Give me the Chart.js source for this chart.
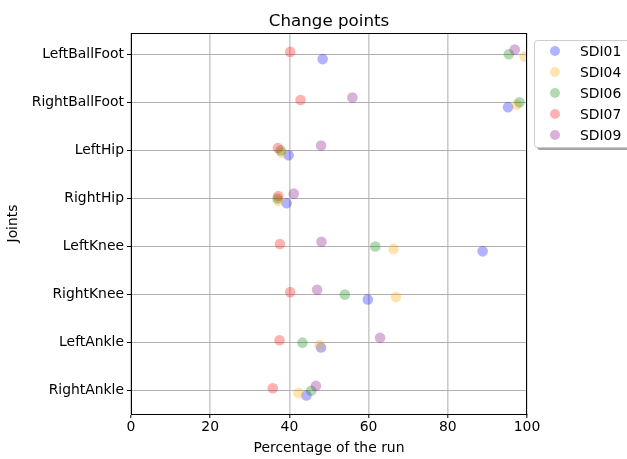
<!DOCTYPE html>
<html>
<head>
<meta charset="utf-8">
<script src="https://cdn.jsdelivr.net/npm/chart.js@4.4.1/dist/chart.umd.min.js"></script>
<style>
  html, body { margin: 0; padding: 0; background: #fff; }
  #wrap { width: 627px; height: 459px; }
</style>
</head>
<body>
<div id="wrap"><canvas id="grafico" width="627" height="459"></canvas></div>
<script>
const joints = ["LeftBallFoot", "RightBallFoot", "LeftHip", "RightHip", "LeftKnee", "RightKnee", "LeftAnkle", "RightAnkle"];
const subjects = ["SDI01", "SDI04", "SDI06", "SDI07", "SDI09"];
const xTicks = [0, 20, 40, 60, 80, 100];

// change point (% of run) per joint, in the order of `joints`
const sdi01 = [48.4, 95.2, 39.8, 39.3, 88.8, 59.8, 48.0, 44.3];
const sdi04 = [99.4, 97.4, 38.1, 37.2, 66.3, 66.9, 47.6, 42.3];
const sdi06 = [95.4, 98.1, 37.8, 37.0, 61.7, 54.0, 43.3, 45.5];
const sdi07 = [40.2, 42.8, 37.1, 37.2, 37.6, 40.2, 37.5, 35.8];
const sdi09 = [96.9, 55.9, 48.0, 41.1, 48.1, 47.0, 62.9, 46.7];

const series = [sdi01, sdi04, sdi06, sdi07, sdi09];
const cores = ["0,0,255", "255,165,0", "0,128,0", "255,0,0", "128,0,128"];
const dodge = [0.1, 0.05, 0, -0.05, -0.1];

const fonte = "DejaVu Sans";
const tam = 13.9;

const datasets = series.map((vals, i) => ({
    label: subjects[i],
    data: vals.map((v, j) => ({ x: v, y: j + dodge[i] })),
    backgroundColor: `rgba(${cores[i]},0.3)`,
    borderWidth: 0,
    pointRadius: 5.3,
    pointHoverRadius: 5.3,
    order: subjects.length - i
}));

// title, frame and legend box
const extras = {
    id: 'extras',
    afterDraw(chart) {
        const ctx = chart.ctx;
        const a = chart.chartArea;
        ctx.save();
        ctx.strokeStyle = '#000';
        ctx.lineWidth = 1;
        ctx.strokeRect(a.left + 0.5, a.top + 0.5, a.right - a.left - 1, a.bottom - a.top);

        ctx.fillStyle = '#000';
        ctx.font = `16.7px "${fonte}"`;
        ctx.textAlign = 'center';
        ctx.textBaseline = 'alphabetic';
        ctx.fillText("Change points", (a.left + a.right) / 2, a.top - 7);

        // legend
        const lx = 534, ly = 40, lw = 110, lh = 107;
        ctx.fillStyle = 'rgba(0,0,0,0.35)';
        ctx.beginPath();
        ctx.roundRect(lx + 3, ly + 3, lw, lh, 3);
        ctx.fill();
        ctx.fillStyle = '#fff';
        ctx.strokeStyle = '#cccccc';
        ctx.beginPath();
        ctx.roundRect(lx + 0.5, ly + 0.5, lw, lh, 3);
        ctx.fill();
        ctx.stroke();

        ctx.font = `${tam}px "${fonte}"`;
        ctx.textAlign = 'left';
        ctx.textBaseline = 'middle';
        chart.data.datasets.forEach((ds, i) => {
            const y = ly + 11 + i * 21;
            ctx.fillStyle = ds.backgroundColor;
            ctx.beginPath();
            ctx.arc(lx + 21, y, 5, 0, Math.PI * 2);
            ctx.fill();
            ctx.fillStyle = '#000';
            ctx.fillText(ds.label, lx + 46, y + 1);
        });
        ctx.restore();
    }
};

const ctx = document.getElementById('grafico').getContext('2d');
const grafico = new Chart(ctx, {
    type: 'scatter',
    data: { datasets },
    options: {
        responsive: false,
        animation: false,
        layout: { padding: { top: 33, right: 100, left: 0, bottom: 0 } },
        plugins: {
            legend: { display: false },
            tooltip: { enabled: false }
        },
        scales: {
            x: {
                type: 'linear',
                min: 0,
                max: 100,
                afterBuildTicks: s => { s.ticks = xTicks.map(v => ({ value: v })); },
                afterFit: s => { s.height = 45; },
                grid: { color: '#cccccc', lineWidth: 1.6, tickColor: '#000', tickLength: 4, tickWidth: 1 },
                border: { color: '#000', width: 1 },
                ticks: { color: '#000', font: { family: fonte, size: tam }, padding: 1, maxRotation: 0 },
                title: { display: true, text: 'Percentage of the run', color: '#000', font: { family: fonte, size: tam }, padding: { top: 2, bottom: 2 } }
            },
            y: {
                type: 'linear',
                min: -0.443,
                max: 7.485,
                reverse: true,
                afterBuildTicks: s => { s.ticks = joints.map((_, i) => ({ value: i })); },
                afterFit: s => { s.width = 131; },
                grid: { color: '#b0b0b0', lineWidth: 1, tickColor: '#000', tickLength: 4, tickWidth: 1 },
                border: { color: '#000', width: 1 },
                ticks: {
                    color: '#000',
                    font: { family: fonte, size: tam },
                    padding: 3,
                    callback: v => joints[v]
                },
                title: { display: true, text: 'Joints', color: '#000', font: { family: fonte, size: tam }, padding: { top: 5, bottom: 0 } }
            }
        }
    },
    plugins: [extras]
});
</script>
</body>
</html>
